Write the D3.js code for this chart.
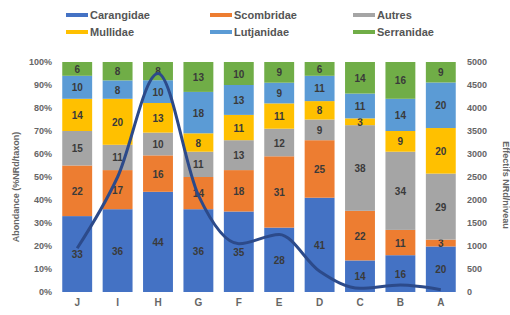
<!DOCTYPE html>
<html>
<head>
<meta charset="utf-8">
<script src="https://cdn.jsdelivr.net/npm/d3@7"></script>
<style>
  body { margin: 0; background: #fff; }
  svg { font-family: "Liberation Sans", Arial, sans-serif; }
</style>
</head>
<body>
<div id="chart"></div>
<script>
// categories (niveaux), left to right
const levels = ['J', 'I', 'H', 'G', 'F', 'E', 'D', 'C', 'B', 'A'];

// % NRd per taxon, bottom to top of each bar
const carangidae = [33, 36, 44, 36, 35, 28, 41, 14, 16, 20];
const scombridae = [22, 17, 16, 14, 18, 31, 25, 22, 11, 3];
const autres     = [15, 11, 10, 11, 13, 12, 9, 38, 34, 29];
const mullidae   = [14, 20, 13, 8, 11, 11, 8, 3, 9, 20];
const lutjanidae = [10, 8, 10, 18, 13, 9, 11, 11, 14, 20];
const serranidae = [6, 8, 8, 13, 10, 9, 6, 14, 16, 9];

// effectifs NRd par niveau (line, right axis)
const effectifs = [950, 2500, 4750, 2100, 1050, 1250, 450, 80, 150, 50];

const pctTicks = [0, 10, 20, 30, 40, 50, 60, 70, 80, 90, 100];
const nrdTicks = [0, 500, 1000, 1500, 2000, 2500, 3000, 3500, 4000, 4500, 5000];

const series = [
    { name: 'Carangidae', values: carangidae, color: '#4472c4' },
    { name: 'Scombridae', values: scombridae, color: '#ed7d31' },
    { name: 'Autres', values: autres, color: '#a5a5a5' },
    { name: 'Mullidae', values: mullidae, color: '#ffc000' },
    { name: 'Lutjanidae', values: lutjanidae, color: '#5b9bd5' },
    { name: 'Serranidae', values: serranidae, color: '#70ad47' }
];

const width = 510, height = 315;
const margin = { top: 62, right: 49, bottom: 23, left: 57 };
const innerW = width - margin.left - margin.right;
const innerH = height - margin.top - margin.bottom;

const svg = d3.select('#chart').append('svg')
    .attr('width', width)
    .attr('height', height);

// build table for d3.stack
const table = levels.map((lvl, i) => {
    const row = { level: lvl };
    series.forEach(s => { row[s.name] = s.values[i]; });
    return row;
});

const stacked = d3.stack()
    .keys(series.map(s => s.name))
    .offset(d3.stackOffsetExpand)(table);

const x = d3.scaleBand()
    .domain(levels)
    .range([0, innerW])
    .paddingInner(0.26)
    .paddingOuter(0.13);

const y = d3.scaleLinear().domain([0, 1]).range([innerH, 0]);
const y2 = d3.scaleLinear().domain([0, 5000]).range([innerH, 0]);

const g = svg.append('g')
    .attr('transform', `translate(${margin.left},${margin.top})`);

// bars
stacked.forEach((layer, k) => {
    const s = series[k];
    const grp = g.append('g');
    grp.selectAll('rect')
        .data(layer)
        .enter().append('rect')
        .attr('x', d => x(d.data.level))
        .attr('y', d => y(d[1]))
        .attr('width', x.bandwidth())
        .attr('height', d => y(d[0]) - y(d[1]))
        .attr('fill', s.color);

    grp.selectAll('text')
        .data(layer)
        .enter().append('text')
        .attr('x', d => x(d.data.level) + x.bandwidth() / 2)
        .attr('y', d => (y(d[0]) + y(d[1])) / 2 + 4)
        .attr('text-anchor', 'middle')
        .attr('font-size', 10)
        .attr('font-weight', 'bold')
        .attr('fill', '#3a3a3a')
        .text(d => d.data[s.name]);
});

// line (smoothed like Excel, without overshoot)
const line = d3.line()
    .x((d, i) => x(levels[i]) + x.bandwidth() / 2)
    .y(d => y2(d))
    .curve(d3.curveMonotoneX);

g.append('path')
    .datum(effectifs)
    .attr('d', line)
    .attr('fill', 'none')
    .attr('stroke', '#2c4a8a')
    .attr('stroke-width', 3)
    .attr('stroke-linejoin', 'round');

// left axis
const yAxis = g.append('g')
    .call(d3.axisLeft(y).tickValues(pctTicks.map(v => v / 100))
        .tickFormat(v => Math.round(v * 100) + '%').tickSize(0).tickPadding(5));
yAxis.select('.domain').remove();

// right axis
const yAxis2 = g.append('g')
    .attr('transform', `translate(${innerW},0)`)
    .call(d3.axisRight(y2).tickValues(nrdTicks).tickFormat(d3.format('d'))
        .tickSize(0).tickPadding(6));
yAxis2.select('.domain').remove();

// bottom axis
const xAxis = g.append('g')
    .attr('transform', `translate(0,${innerH})`)
    .call(d3.axisBottom(x).tickSize(0).tickPadding(7));
xAxis.select('.domain').remove();

g.selectAll('.tick text')
    .attr('font-size', 9)
    .attr('font-weight', 'bold')
    .attr('fill', '#666');
xAxis.selectAll('.tick text').attr('font-size', 10);

// axis titles
svg.append('text')
    .attr('transform', `translate(19,${margin.top + innerH / 2 + 10}) rotate(-90)`)
    .attr('text-anchor', 'middle')
    .attr('font-size', 9)
    .attr('font-weight', 'bold')
    .attr('fill', '#666')
    .text('Abondance (%NRd/taxon)');

svg.append('text')
    .attr('transform', `translate(503,${margin.top + innerH / 2 + 8}) rotate(90)`)
    .attr('text-anchor', 'middle')
    .attr('font-size', 9)
    .attr('font-weight', 'bold')
    .attr('fill', '#666')
    .text('Effectifs NRd/niveau');

// legend
const legendCols = [66, 210, 353];
series.forEach((s, i) => {
    const lx = legendCols[i % 3];
    const ly = i < 3 ? 15 : 32;
    svg.append('rect')
        .attr('x', lx)
        .attr('y', ly - 2)
        .attr('width', 22)
        .attr('height', 4)
        .attr('fill', s.color);
    svg.append('text')
        .attr('x', lx + 24)
        .attr('y', ly + 4)
        .attr('font-size', 11)
        .attr('font-weight', 'bold')
        .attr('fill', '#555')
        .text(s.name);
});
</script>
</body>
</html>
